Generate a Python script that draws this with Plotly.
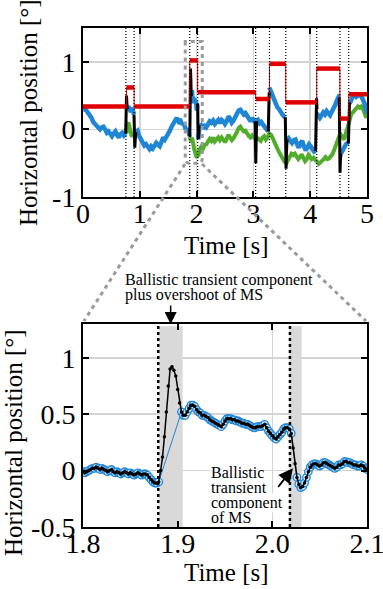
import numpy as np
import plotly.graph_objects as go

FONT = "Liberation Serif, Times New Roman, Times, serif"
W, H = 383, 589
ML, MR = 83, 16

RED = "#e00000"
BLUE = "#1f86d6"
GREEN = "#52ad2a"
GRID = "#d4d4d4"

# ---------------- Top panel data ----------------
target_t = [0.0, 0.765, 0.90, 1.8795, 2.0186, 3.04, 3.283, 3.57, 4.115, 4.523, 4.678, 5.0]
target_v = [0.34, 0.62, 0.34, 1.02, 0.55, 0.45, 0.97, 0.40, 0.90, 0.16, 0.52, 0.52]

ms_onsets_top = [0.755, 0.90, 1.8795, 2.0186, 3.04, 3.283, 3.57, 4.115, 4.523, 4.678]

blue_t = [0.00, 0.03, 0.06, 0.09, 0.12, 0.15, 0.18, 0.21, 0.24, 0.27, 0.30, 0.33, 0.36, 0.39,
          0.42, 0.45, 0.48, 0.51, 0.54, 0.57, 0.60, 0.63, 0.66, 0.69, 0.72, 0.75, None,
          0.78, 0.80, 0.82, 0.84, 0.86, 0.88, 0.90, None,
          0.93, 0.96, 0.99, 1.02, 1.05, 1.08, 1.11, 1.14, 1.17, 1.20, 1.23, 1.26, 1.29, 1.32,
          1.35, 1.38, 1.41, 1.44, 1.47, 1.50, 1.53, 1.56, 1.59, 1.62, 1.65, 1.68, 1.71, 1.74,
          1.77, 1.80, 1.83, 1.86, 1.875, None,
          1.905, 1.915, 1.925, 1.935, 1.945, 1.955, 1.965, 1.975, 1.985, 1.992, 2.000, 2.005,
          2.012, 2.018, None,
          2.026, 2.03, 2.05, 2.08, 2.11, 2.14, 2.17, 2.20, 2.23, 2.26, 2.29, 2.32, 2.35, 2.38,
          2.41, 2.44, 2.47, 2.50, 2.53, 2.56, 2.59, 2.62, 2.65, 2.68, 2.71, 2.74, 2.77, 2.80,
          2.83, 2.86, 2.89, 2.92, 2.95, 2.98, 3.01, 3.03, None,
          3.05, 3.08, 3.11, 3.14, 3.17, 3.20, 3.23, 3.26, None,
          3.28, 3.30, 3.33, 3.36, 3.39, 3.42, 3.45, 3.48, 3.51, 3.54, 3.56, None,
          3.59, 3.62, 3.65, 3.68, 3.71, 3.74, 3.77, 3.80, 3.83, 3.86, 3.89, 3.92, 3.95, 3.98,
          4.01, 4.04, 4.07, 4.095, None,
          4.115, 4.14, 4.17, 4.20, 4.23, 4.26, 4.29, 4.32, 4.35, 4.38, 4.41, 4.44, 4.47, 4.50,
          4.515, None,
          4.54, 4.57, 4.60, 4.63, 4.66, 4.675, None,
          4.695, 4.72, 4.75, 4.78, 4.81, 4.84, 4.87, 4.90, 4.93, 4.96, 4.99, 5.00]
blue_v = [0.29, 0.30, 0.28, 0.25, 0.22, 0.17, 0.11, 0.08, 0.06, 0.03, 0.00, 0.03, 0.04, 0.00,
          -0.05, -0.03, -0.07, -0.10, -0.06, -0.03, -0.08, -0.12, -0.07, -0.05, -0.09, -0.06, None,
          0.30, 0.34, 0.30, 0.26, 0.32, 0.28, 0.22, None,
          -0.04, -0.02, -0.10, -0.14, -0.20, -0.24, -0.22, -0.27, -0.29, -0.25, -0.28, -0.24, -0.20, -0.23,
          -0.25, -0.19, -0.12, -0.15, -0.11, -0.08, -0.02, 0.04, 0.08, 0.13, 0.17, 0.12, 0.15, 0.07,
          0.10, 0.02, 0.00, -0.03, -0.10, None,
          0.50, 0.58, 0.50, 0.45, 0.39, 0.46, 0.44, 0.41, 0.39, 0.41, 0.31, 0.28,
          0.37, 0.37, None,
          -0.06, -0.15, 0.04, 0.06, 0.01, 0.05, 0.03, 0.08, 0.12, 0.10, 0.13, 0.08, 0.11, 0.14,
          0.09, 0.14, 0.12, 0.08, 0.12, 0.19, 0.16, 0.10, 0.13, 0.18, 0.22, 0.28, 0.29, 0.26,
          0.22, 0.24, 0.19, 0.15, 0.12, 0.17, 0.13, 0.10, None,
          0.12, 0.14, 0.09, 0.11, 0.07, 0.04, 0.01, -0.03, None,
          0.62, 0.58, 0.48, 0.42, 0.38, 0.33, 0.30, 0.25, 0.22, 0.19, 0.18, None,
          -0.15, -0.13, -0.17, -0.20, -0.16, -0.15, -0.22, -0.27, -0.20, -0.17, -0.25, -0.31, -0.27, -0.22,
          -0.25, -0.28, -0.33, -0.32, None,
          0.24, 0.20, 0.17, 0.21, 0.25, 0.22, 0.27, 0.24, 0.21, 0.26, 0.30, 0.36, 0.43, 0.48,
          0.47, None,
          -0.36, -0.30, -0.25, -0.22, -0.20, -0.21, None,
          0.38, 0.44, 0.49, 0.51, 0.48, 0.50, 0.51, 0.49, 0.45, 0.38, 0.26, 0.24]

green_t = [0.765, 0.78, 0.80, 0.82, 0.84, 0.86, 0.88, 0.90, 0.93, None,
           1.878, 1.905, 1.92, 1.94, 1.96, 1.98, 2.00, 2.02, 2.03,
           2.05, 2.08, 2.11, 2.14, 2.17, 2.20, 2.23, 2.26, 2.29, 2.32, 2.35, 2.38, 2.41, 2.44,
           2.47, 2.50, 2.53, 2.56, 2.59, 2.62, 2.65, 2.68, 2.71, 2.74, 2.77, 2.80, 2.83, 2.86,
           2.89, 2.92, 2.95, 2.98, 3.01, 3.04, 3.07, 3.10, 3.13, 3.16, 3.19, 3.22, 3.25,
           3.28, 3.31, 3.34, 3.37, 3.40, 3.43, 3.46, 3.49, 3.52, 3.55, 3.58, 3.61, 3.64, 3.67,
           3.70, 3.73, 3.76, 3.79, 3.82, 3.85, 3.88, 3.91, 3.94, 3.97, 4.00, 4.03, 4.06, 4.09,
           4.12, 4.15, 4.18, 4.21, 4.24, 4.27, 4.30, 4.33, 4.36, 4.39, 4.42, 4.45, 4.48, 4.51,
           4.54, 4.57, 4.60, 4.63, 4.66, 4.69, 4.72, 4.75, 4.78, 4.81, 4.84, 4.87, 4.90, 4.93,
           4.96, 4.99]
green_v = [-0.06, 0.08, 0.10, 0.03, -0.04, -0.11, -0.06, -0.09, -0.04, None,
           -0.11, -0.18, -0.12, -0.25, -0.30, -0.35, -0.42, -0.38, -0.40,
           -0.30, -0.26, -0.29, -0.23, -0.22, -0.18, -0.14, -0.17, -0.12, -0.18, -0.15, -0.12, -0.16, -0.12,
           -0.15, -0.19, -0.14, -0.08, -0.12, -0.16, -0.13, -0.09, -0.04, 0.02, 0.04, 0.00, -0.03, -0.02,
           -0.07, -0.10, -0.12, -0.09, -0.12, -0.10, -0.13, -0.15, -0.17, -0.12, -0.10, -0.15, -0.12,
           -0.06, -0.08, -0.13, -0.20, -0.27, -0.30, -0.35, -0.40, -0.44, -0.48, -0.50, -0.45, -0.40, -0.36,
           -0.38, -0.36, -0.40, -0.44, -0.41, -0.37, -0.42, -0.47, -0.44, -0.38, -0.41, -0.44, -0.42, -0.46,
           -0.48, -0.51, -0.49, -0.47, -0.44, -0.41, -0.44, -0.43, -0.40, -0.37, -0.31, -0.25, -0.18, -0.10,
           -0.08, -0.12, -0.15, -0.05, 0.02, 0.12, 0.22, 0.25, 0.30, 0.33, 0.34, 0.32, 0.34, 0.30,
           0.24, 0.17]

black_t = [0.752, 0.760, 0.766, 0.772, 0.780, None,
           0.898, 0.905, 0.912, 0.920, 0.930, None,
           1.876, 1.880, 1.884, 1.888, 1.892, 1.896, 1.900, 1.904, 1.908, None,
           2.016, 2.020, 2.024, 2.028, 2.032, 2.038, 2.045, None,
           3.030, 3.036, 3.042, 3.048, 3.056, None,
           3.262, 3.270, 3.278, None,
           3.562, 3.568, 3.575, 3.582, 3.592, None,
           4.095, 4.104, 4.112, 4.120, None,
           4.512, 4.518, 4.525, 4.532, 4.542, None,
           4.672, 4.682, 4.692]
black_v = [-0.06, 0.15, 0.50, 0.40, 0.30, None,
           0.22, -0.05, -0.27, -0.15, -0.04, None,
           -0.11, -0.10, 0.12, 0.52, 0.90, 0.89, 0.72, 0.52, 0.49, None,
           0.38, 0.33, 0.06, -0.12, -0.14, -0.01, 0.06, None,
           0.12, -0.15, -0.50, -0.20, 0.12, None,
           -0.03, 0.25, 0.55, None,
           0.18, -0.20, -0.58, -0.35, -0.15, None,
           -0.32, 0.10, 0.46, 0.30, None,
           0.47, 0.00, -0.64, -0.45, -0.36, None,
           -0.21, 0.10, 0.40]

# ---------------- Bottom panel data (2 ms samples from 1.800 s) ----------------
eye_v = [-0.01, -0.02, -0.01, 0.00, 0.01, 0.02, 0.02, 0.03, 0.02, 0.01,
         0.02, 0.01, 0.00, -0.01, 0.00, 0.01, -0.01, -0.02, -0.01, -0.02,
         -0.03, -0.02, -0.01, -0.02, -0.03, -0.02, -0.03, -0.04, -0.03, -0.02,
         -0.03, -0.04, -0.03, -0.03, -0.04, -0.06, -0.08, -0.10, -0.11, -0.11,
         -0.10, 0.00, 0.12, 0.30, 0.52, 0.75, 0.90, 0.92, 0.89, 0.84,
         0.72, 0.60, 0.52, 0.49, 0.49, 0.52, 0.55, 0.58, 0.58, 0.57,
         0.54, 0.52, 0.51, 0.49, 0.49, 0.48, 0.47, 0.45, 0.44, 0.43,
         0.42, 0.41, 0.40, 0.39, 0.41, 0.44, 0.46, 0.46, 0.46, 0.45,
         0.45, 0.44, 0.44, 0.43, 0.42, 0.42, 0.41, 0.41, 0.40, 0.39,
         0.38, 0.38, 0.39, 0.39, 0.39, 0.40, 0.41, 0.38, 0.35, 0.33,
         0.31, 0.29, 0.28, 0.30, 0.32, 0.34, 0.37, 0.38, 0.38, 0.37,
         0.33, 0.20, 0.06, -0.06, -0.12, -0.15, -0.14, -0.11, -0.06, -0.01,
         0.03, 0.05, 0.06, 0.06, 0.05, 0.04, 0.05, 0.07, 0.07, 0.06,
         0.05, 0.04, 0.03, 0.02, 0.03, 0.05, 0.05, 0.06, 0.08, 0.08,
         0.07, 0.07, 0.06, 0.05, 0.05, 0.04, 0.04, 0.05, 0.04, 0.02,
         0.01]
eye_t0, eye_dt = 1.8, 0.002
ms_windows = [(1.8805, 1.9035), (2.0205, 2.0255)]   # ballistic transient samples (blue trace absent)
shade_windows = [(1.8806, 1.9053), (2.0178, 2.0309)]
ms_onsets_bottom = [1.8795, 2.0186]

eye_t = np.round(eye_t0 + eye_dt * np.arange(len(eye_v)), 4)
blue_b = [None if any(a <= t <= b for a, b in ms_windows) else v for t, v in zip(eye_t, eye_v)]

# ---------------- helpers (pixel -> paper) ----------------
def px2x(px):
    return (px - ML) / (W - ML - MR)

def py2y(py):
    return 1 - py / H

fig = go.Figure()

# top traces
fig.add_trace(go.Scatter(x=green_t, y=green_v, mode="lines", line=dict(color=GREEN, width=4),
                         xaxis="x", yaxis="y", hoverinfo="skip"))
fig.add_trace(go.Scatter(x=blue_t, y=blue_v, mode="lines", line=dict(color=BLUE, width=4.5),
                         xaxis="x", yaxis="y", hoverinfo="skip"))
fig.add_trace(go.Scatter(x=black_t, y=black_v, mode="lines", line=dict(color="black", width=3),
                         xaxis="x", yaxis="y", hoverinfo="skip"))
fig.add_trace(go.Scatter(x=target_t, y=target_v, mode="lines", line=dict(color=RED, width=1),
                         line_shape="hv", xaxis="x", yaxis="y", hoverinfo="skip"))
seg_x, seg_y = [], []
for i in range(len(target_t) - 1):
    seg_x += [target_t[i], target_t[i + 1], None]
    seg_y += [target_v[i], target_v[i], None]
fig.add_trace(go.Scatter(x=seg_x, y=seg_y, mode="lines", line=dict(color=RED, width=4.5),
                         xaxis="x", yaxis="y", hoverinfo="skip"))

# bottom traces
fig.add_trace(go.Scatter(x=eye_t, y=blue_b, mode="lines+markers", connectgaps=True,
                         line=dict(color=BLUE, width=1),
                         marker=dict(symbol="circle", size=7.5, color="#d6ecfb",
                                     line=dict(color=BLUE, width=1.3)),
                         xaxis="x2", yaxis="y2", hoverinfo="skip"))
fig.add_trace(go.Scatter(x=eye_t, y=eye_v, mode="lines+markers",
                         line=dict(color="black", width=1.5),
                         marker=dict(size=3.5, color="black"),
                         xaxis="x2", yaxis="y2", hoverinfo="skip"))

shapes = []
for t in ms_onsets_top:
    shapes.append(dict(type="line", xref="x", yref="y", x0=t, x1=t, y0=-1, y1=1.5,
                       line=dict(color="black", width=1.2, dash="1px,2px"), layer="above"))
# zoom window outline in the top panel
shapes.append(dict(type="path", xref="x", yref="y",
                   path="M 1.8,1.3 L 1.8,-0.42 Q 1.8,-0.5 1.87,-0.5 L 2.03,-0.5 Q 2.1,-0.5 2.1,-0.42 L 2.1,1.3 Z",
                   line=dict(color="#9a9a9a", width=3, dash="4px,4px"), layer="above"))
shapes.append(dict(type="line", xref="paper", yref="paper",
                   x0=px2x(185), y0=py2y(164), x1=px2x(84), y1=py2y(321),
                   line=dict(color="#9a9a9a", width=3, dash="4px,4px")))
shapes.append(dict(type="line", xref="paper", yref="paper",
                   x0=px2x(202), y0=py2y(164), x1=px2x(366), y1=py2y(321),
                   line=dict(color="#9a9a9a", width=3, dash="4px,4px")))
for a, b in shade_windows:
    shapes.append(dict(type="rect", xref="x2", yref="y2", x0=a, x1=b, y0=-0.5, y1=1.28,
                       fillcolor="#d9d9d9", line=dict(width=0), layer="between"))
for t in ms_onsets_bottom:
    shapes.append(dict(type="line", xref="x2", yref="y2", x0=t, x1=t, y0=-0.5, y1=1.3,
                       line=dict(color="black", width=2.5, dash="dot"), layer="above"))

ann = []
tf = dict(family=FONT, size=25, color="black")
ann.append(dict(text="Horizontal position [°]", textangle=-90, x=px2x(28), y=py2y(113),
                xref="paper", yref="paper", showarrow=False, font=tf,
                xanchor="center", yanchor="middle"))
ann.append(dict(text="Horizontal position [°]", textangle=-90, x=px2x(13), y=py2y(443),
                xref="paper", yref="paper", showarrow=False, font=tf,
                xanchor="center", yanchor="middle"))
ann.append(dict(text="Time [s]", x=px2x(226), y=py2y(245), xref="paper", yref="paper",
                showarrow=False, font=tf, xanchor="center", yanchor="middle"))
ann.append(dict(text="Time [s]", x=px2x(226), y=py2y(572), xref="paper", yref="paper",
                showarrow=False, font=tf, xanchor="center", yanchor="middle"))

af = dict(family=FONT, size=16, color="black")
for txt, base in [("Ballistic transient component", 285), ("plus overshoot of MS", 300)]:
    ann.append(dict(text=txt, x=px2x(123), y=py2y(base - 5.4), xref="paper", yref="paper",
                    showarrow=False, font=af, xanchor="left", yanchor="middle"))
for txt, base in [("Ballistic", 478), ("transient", 493), ("component", 508), ("of MS", 523)]:
    ann.append(dict(text=txt, x=px2x(210), y=py2y(base - 5.4), xref="paper", yref="paper",
                    showarrow=False, font=af, xanchor="left", yanchor="middle",
                    bgcolor="white", borderpad=0))
ann.append(dict(text="", x=1.8926, y=1.3, xref="x2", yref="y2", showarrow=True,
                ax=0, ay=-20, arrowhead=2, arrowsize=1.6, arrowwidth=1.5, arrowcolor="black"))
ann.append(dict(text="", x=2.0218, y=0.02, xref="x2", yref="y2", showarrow=True,
                ax=-16, ay=20, arrowhead=2, arrowsize=1.6, arrowwidth=1.8, arrowcolor="black"))

axis_common = dict(showline=True, linecolor="black", linewidth=2, mirror="ticks",
                   ticks="inside", ticklen=6, tickwidth=2, tickcolor="black",
                   showgrid=True, gridcolor=GRID, gridwidth=1.5, zeroline=False,
                   ticklabeloverflow="allow",
                   tickfont=dict(family=FONT, size=28, color="black"), automargin=False)

fig.update_layout(
    width=W, height=H, margin=dict(l=ML, r=MR, t=0, b=0),
    paper_bgcolor="white", plot_bgcolor="white", showlegend=False,
    font=dict(family=FONT),
    xaxis=dict(domain=[0, 1], anchor="y", range=[0, 5], ticklabelstandoff=-10,
               tickvals=[0, 1, 2, 3, 4, 5], ticktext=["0", "1", "2", "3", "4", "5"], **axis_common),
    yaxis=dict(domain=[py2y(197), py2y(28)], anchor="x", range=[-1, 1.5],
               tickvals=[-1, 0, 1], ticktext=["-1", "0", "1"], **axis_common),
    xaxis2=dict(domain=[0, 1], anchor="y2", range=[1.8, 2.1], ticklabelstandoff=-10,
                tickvals=[1.8, 1.9, 2.0, 2.1], ticktext=["1.8", "1.9", "2.0", "2.1"], **axis_common),
    yaxis2=dict(domain=[py2y(527), py2y(324)], anchor="x2", range=[-0.5, 1.3],
                tickvals=[-0.5, 0, 0.5, 1], ticktext=["-0.5", "0", "0.5", "1"], **axis_common),
    shapes=shapes, annotations=ann,
)

fig.write_html("out.html", config={"displayModeBar": False, "staticPlot": True},
               post_script="document.body.style.margin='0';document.body.style.padding='0';")
